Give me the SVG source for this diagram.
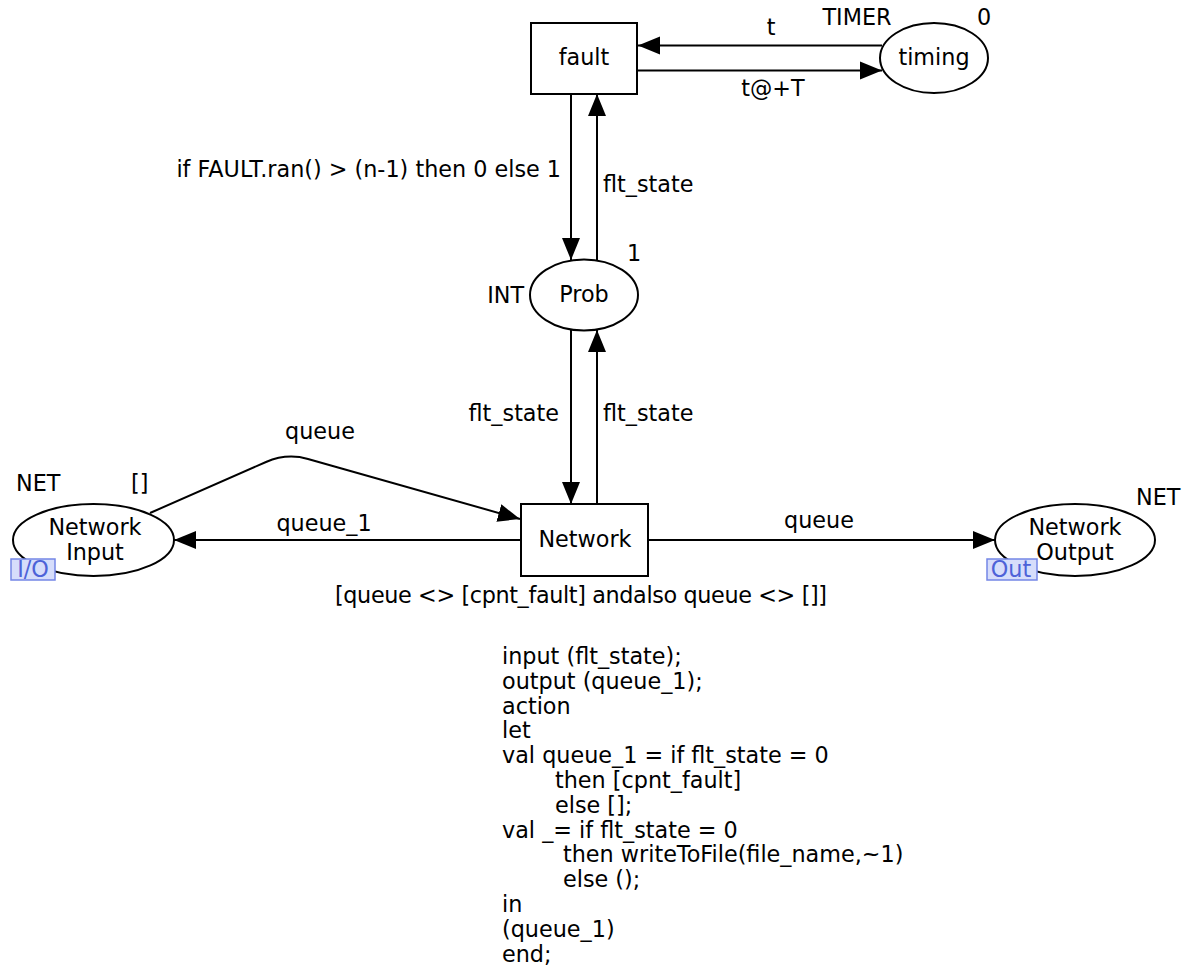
<svg xmlns="http://www.w3.org/2000/svg" width="1187" height="970" viewBox="0 0 1187 970">
<style>
text{font-family:"DejaVu Sans",Verdana,"Liberation Sans",sans-serif;font-size:22.3px;fill:#000}
.c{text-anchor:middle}
.e{text-anchor:end}
.shape{fill:#fff;stroke:#000;stroke-width:2}
.arc{fill:none;stroke:#000;stroke-width:2;marker-end:url(#ah)}
.tag{fill:#d6ddfb;stroke:#7486e6;stroke-width:1.5}
.tagt{fill:#4d62d8;text-anchor:middle}
</style>
<defs>
<marker id="ah" markerUnits="userSpaceOnUse" markerWidth="23" markerHeight="19" refX="22" refY="9.5" orient="auto">
<path d="M0,0.5 L22,9.5 L0,18.5 z" fill="#000"/>
</marker>
</defs>
<rect width="1187" height="970" fill="#fff"/>
<g id="connectors">
<path class="arc" d="M882,45.5 L638,45.5"/>
<text class="c" x="771" y="35">t</text>
<path class="arc" d="M637,70.5 L882,70.5"/>
<text class="c" x="773" y="96">t@+T</text>
<path class="arc" d="M571,94 L571,260"/>
<text class="e" x="561" y="177">if FAULT.ran() &gt; (n-1) then 0 else 1</text>
<path class="arc" d="M597,260 L597,94"/>
<text x="603" y="192">flt_state</text>
<path class="arc" d="M571,330 L571,504"/>
<text class="e" x="559" y="421">flt_state</text>
<path class="arc" d="M597,504 L597,330"/>
<text x="603" y="421">flt_state</text>
<path class="arc" d="M150,513 L266,462 Q287,453 308,459 L520,519"/>
<text class="c" x="320" y="439">queue</text>
<path class="arc" d="M520,540 L174,540"/>
<text class="c" x="324" y="531">queue_1</text>
<path class="arc" d="M648,540 L995,540"/>
<text class="c" x="819" y="528">queue</text>
</g>
<g id="fault">
<rect class="shape" x="531" y="23" width="106" height="71"/>
<text class="c" x="584" y="65">fault</text>
</g>
<g id="timing">
<ellipse class="shape" cx="934" cy="58" rx="54" ry="35"/>
<text class="c" x="934" y="65">timing</text>
<text class="c" x="857" y="25">TIMER</text>
<text class="c" x="984" y="25">0</text>
</g>
<g id="prob">
<ellipse class="shape" cx="584" cy="295" rx="54" ry="35.5"/>
<text class="c" x="584" y="302">Prob</text>
<text class="e" x="524" y="303">INT</text>
<text class="c" x="634" y="261">1</text>
</g>
<g id="network">
<rect class="shape" x="521" y="504" width="127" height="72"/>
<text class="c" x="585" y="547">Network</text>
<text class="c" x="581" y="603" textLength="492">[queue &lt;&gt; [cpnt_fault] andalso queue &lt;&gt; []]</text>
</g>
<g id="network-input">
<ellipse class="shape" cx="93.5" cy="540" rx="80.5" ry="36"/>
<text class="c" x="95" y="535">Network</text>
<text class="c" x="95" y="560">Input</text>
<text x="16" y="491">NET</text>
<text x="131" y="491">[]</text>
<rect class="tag" x="11" y="559" width="44" height="21"/>
<text class="tagt" x="33" y="577">I/O</text>
</g>
<g id="network-output">
<ellipse class="shape" cx="1075" cy="540" rx="80" ry="36"/>
<text class="c" x="1075" y="535">Network</text>
<text class="c" x="1075" y="560">Output</text>
<text x="1136" y="505">NET</text>
<rect class="tag" x="987" y="559" width="50" height="21"/>
<text class="tagt" x="1011" y="577">Out</text>
</g>
<g id="code">
<text x="502" y="664">input (flt_state);</text>
<text x="502" y="688.8">output (queue_1);</text>
<text x="502" y="713.6">action</text>
<text x="502" y="738.4">let</text>
<text x="502" y="763.2">val queue_1 = if flt_state = 0</text>
<text x="555" y="788">then [cpnt_fault]</text>
<text x="555" y="812.8">else [];</text>
<text x="502" y="837.6">val _= if flt_state = 0</text>
<text x="563" y="862.4">then writeToFile(file_name,~1)</text>
<text x="563" y="887.2">else ();</text>
<text x="502" y="912">in</text>
<text x="502" y="936.8">(queue_1)</text>
<text x="502" y="961.6">end;</text>
</g>
</svg>
